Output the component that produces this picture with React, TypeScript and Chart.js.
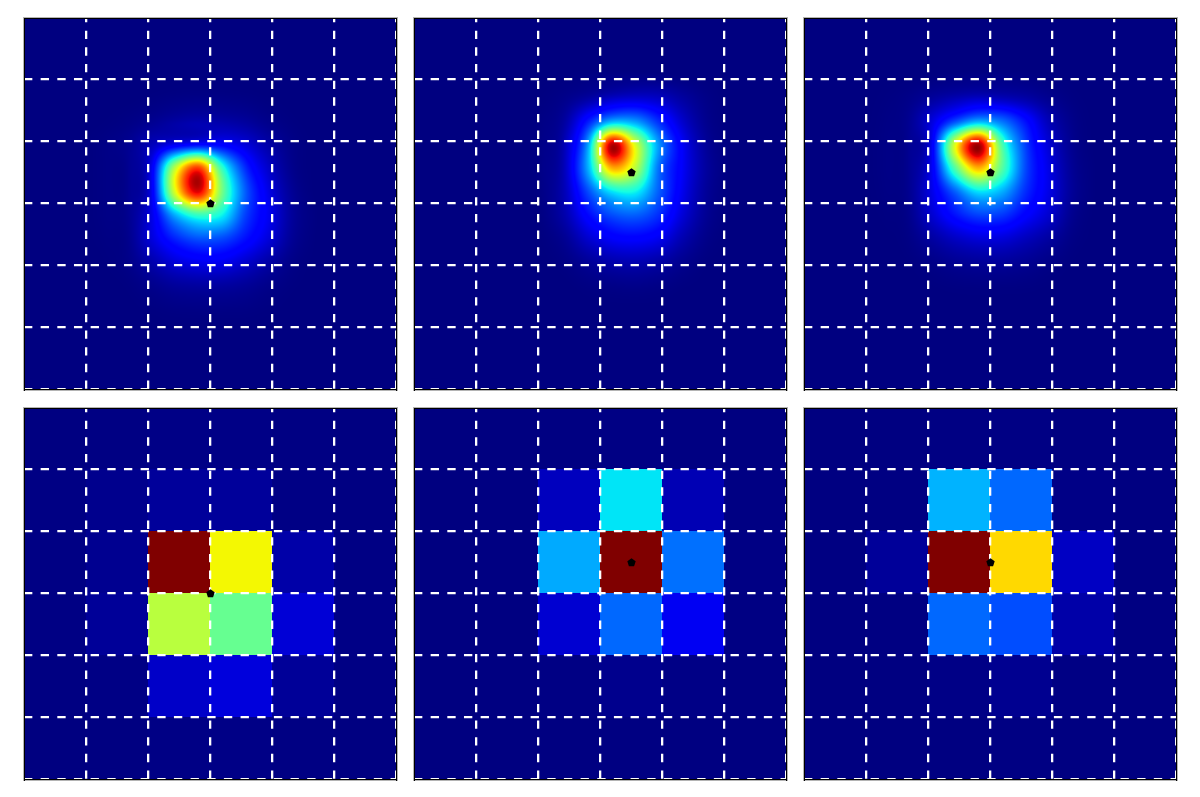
import React, { useEffect, useRef } from "react";
import { Chart, registerables } from "chart.js";

Chart.register(...registerables);

const SMOOTH_A = [
  [0,0,0,0,0,0,0,0,0,0,0,0,0,0,0,0],
  [0,0,0,0,0,0,0,0,0,0,0,0,0,0,0,0],
  [0,0,0,0,0,0,0,0,0,0,0,0,0,0,0,0],
  [0,0,0,0,0,.002,.005,.007,.006,.004,.001,0,0,0,0,0],
  [0,0,0,.001,.005,.015,.03,.04,.035,.025,.01,.002,0,0,0,0],
  [0,0,0,.005,.015,.05,.10,.13,.12,.08,.035,.008,0,0,0,0],
  [0,0,0,.005,.015,.10,.58,.85,.42,.17,.065,.012,0,0,0,0],
  [0,0,0,.005,.015,.10,.62,.92,.50,.22,.09,.02,0,0,0,0],
  [0,0,0,.005,.015,.09,.30,.42,.37,.19,.10,.025,.002,0,0,0],
  [0,0,0,.003,.012,.08,.16,.21,.20,.14,.08,.02,.001,0,0,0],
  [0,0,0,.001,.008,.04,.08,.10,.10,.07,.035,.008,0,0,0,0],
  [0,0,0,0,.002,.012,.025,.03,.03,.022,.01,.002,0,0,0,0],
  [0,0,0,0,0,.002,.005,.006,.006,.005,.002,0,0,0,0,0],
  [0,0,0,0,0,0,0,0,0,0,0,0,0,0,0,0],
  [0,0,0,0,0,0,0,0,0,0,0,0,0,0,0,0],
  [0,0,0,0,0,0,0,0,0,0,0,0,0,0,0,0],
];

const SMOOTH_B = [
  [0,0,0,0,0,0,0,0,0,0,0,0,0,0,0,0],
  [0,0,0,0,0,0,0,0,0,0,0,0,0,0,0,0],
  [0,0,0,0,0,0,.001,.003,.005,.005,.003,.001,0,0,0,0],
  [0,0,0,0,0,.002,.01,.03,.06,.07,.06,.03,.008,0,0,0],
  [0,0,0,0,0,.005,.03,.15,.30,.28,.17,.07,.015,.001,0,0],
  [0,0,0,0,0,.007,.05,.29,.95,.62,.28,.11,.025,.002,0,0],
  [0,0,0,0,0,.008,.055,.30,.72,.58,.24,.11,.03,.002,0,0],
  [0,0,0,0,0,.006,.05,.20,.35,.37,.22,.10,.025,.002,0,0],
  [0,0,0,0,0,.004,.04,.13,.20,.22,.17,.08,.02,.001,0,0],
  [0,0,0,0,0,.001,.018,.07,.11,.12,.10,.045,.01,0,0,0],
  [0,0,0,0,0,0,.005,.022,.04,.045,.035,.015,.002,0,0,0],
  [0,0,0,0,0,0,0,.004,.008,.01,.007,.002,0,0,0,0],
  [0,0,0,0,0,0,0,0,0,0,0,0,0,0,0,0],
  [0,0,0,0,0,0,0,0,0,0,0,0,0,0,0,0],
  [0,0,0,0,0,0,0,0,0,0,0,0,0,0,0,0],
  [0,0,0,0,0,0,0,0,0,0,0,0,0,0,0,0],
];

const SMOOTH_C = [
  [0,0,0,0,0,0,0,0,0,0,0,0,0,0,0,0],
  [0,0,0,0,0,0,0,0,0,0,0,0,0,0,0,0],
  [0,0,0,0,0,.001,.003,.005,.005,.003,.001,0,0,0,0,0],
  [0,0,0,.002,.008,.025,.045,.06,.05,.035,.015,.003,0,0,0,0],
  [0,0,0,.004,.015,.08,.20,.30,.24,.14,.05,.01,0,0,0,0],
  [0,0,0,.005,.015,.10,.62,.97,.45,.19,.075,.015,0,0,0,0],
  [0,0,0,.005,.015,.10,.45,.72,.46,.20,.09,.02,.001,0,0,0],
  [0,0,0,.004,.014,.09,.22,.35,.30,.17,.09,.022,.001,0,0,0],
  [0,0,0,.002,.01,.07,.14,.19,.18,.12,.07,.015,0,0,0,0],
  [0,0,0,0,.005,.03,.06,.08,.08,.055,.03,.006,0,0,0,0],
  [0,0,0,0,.001,.008,.018,.024,.025,.018,.008,.001,0,0,0,0],
  [0,0,0,0,0,.001,.003,.004,.004,.003,.001,0,0,0,0,0],
  [0,0,0,0,0,0,0,0,0,0,0,0,0,0,0,0],
  [0,0,0,0,0,0,0,0,0,0,0,0,0,0,0,0],
  [0,0,0,0,0,0,0,0,0,0,0,0,0,0,0,0],
  [0,0,0,0,0,0,0,0,0,0,0,0,0,0,0,0],
];

const CELLS_A = [
  [.001,.003,.006,.006,.003,.001],
  [.004,.012,.023,.023,.005,.002],
  [.004,.014,1,.647,.035,.004],
  [.004,.021,.575,.474,.075,.006],
  [.002,.005,.0625,.08,.021,.004],
  [0,.001,.005,.006,.003,.001],
];
const CELLS_B = [
  [0,0,.002,.004,.002,0],
  [0,.002,.054,.35,.045,.003],
  [0,.002,.292,1,.235,.004],
  [0,.001,.07,.227,.10,.003],
  [0,.001,.004,.012,.006,.001],
  [0,0,.001,.002,.001,0],
];
const CELLS_C = [
  [0,.001,.003,.004,.001,0],
  [.001,.002,.30,.227,.006,.001],
  [.002,.022,1,.68,.058,.002],
  [.001,.002,.227,.20,.035,.002],
  [0,.001,.006,.014,.004,.001],
  [0,0,.001,.003,.001,0],
];

const MARKERS = [
  { x: 3, y: 3 },
  { x: 3.5, y: 2.5 },
  { x: 3, y: 2.5 },
];

const PANEL_X = [24, 414, 804];
const PANEL_Y = [17, 407];
const TICK_VALUES = [1, 2, 3, 4, 5, 6];

const lerpTable = (t: number[][], v: number) => {
  for (let i = 1; i < t.length; i++) {
    if (v <= t[i][0]) {
      const [a, b] = [t[i - 1], t[i]];
      return a[1] + ((b[1] - a[1]) * (v - a[0])) / (b[0] - a[0]);
    }
  }
  return t[t.length - 1][1];
};
const JET_R = [[0, 0], [0.35, 0], [0.66, 1], [0.89, 1], [1, 0.5]];
const JET_G = [[0, 0], [0.125, 0], [0.375, 1], [0.64, 1], [0.91, 0], [1, 0]];
const JET_B = [[0, 0.5], [0.11, 1], [0.34, 1], [0.65, 0], [1, 0]];
const jet = (v: number): [number, number, number] => [
  Math.round(255 * lerpTable(JET_R, v)),
  Math.round(255 * lerpTable(JET_G, v)),
  Math.round(255 * lerpTable(JET_B, v)),
];

function pentagon(): HTMLCanvasElement {
  const c = document.createElement("canvas");
  c.width = 12;
  c.height = 12;
  const g = c.getContext("2d")!;
  g.fillStyle = "#000";
  g.beginPath();
  for (let i = 0; i < 5; i++) {
    const a = -Math.PI / 2 + (i * 2 * Math.PI) / 5;
    const px = 6.5 + 4.4 * Math.cos(a);
    const py = 6.7 + 4.4 * Math.sin(a);
    if (i === 0) g.moveTo(px, py);
    else g.lineTo(px, py);
  }
  g.closePath();
  g.fill();
  return c;
}

const catmull = (p0: number, p1: number, p2: number, p3: number, t: number) =>
  0.5 * (2 * p1 + (p2 - p0) * t + (2 * p0 - 5 * p1 + 4 * p2 - p3) * t * t + (3 * p1 - p0 - 3 * p2 + p3) * t * t * t);

const smoothHeatPlugin = {
  id: "smoothHeat",
  beforeDatasetsDraw(chart: any, _a: any, opts: any) {
    const grid: number[][] | undefined = opts.grid;
    if (!grid) return;
    const { left, top, width, height } = chart.chartArea;
    const off = document.createElement("canvas");
    off.width = width;
    off.height = height;
    const g = off.getContext("2d")!;
    const img = g.createImageData(width, height);
    const n = grid.length;
    const at = (r: number, c: number) =>
      grid[Math.max(0, Math.min(n - 1, r))][Math.max(0, Math.min(n - 1, c))];
    const xs = chart.scales.x;
    const ys = chart.scales.y;
    for (let py = 0; py < height; py++) {
      const gy = (ys.getValueForPixel(top + py + 0.5) / 6) * n - 0.5;
      const r0 = Math.floor(gy);
      const ty = gy - r0;
      for (let px = 0; px < width; px++) {
        const gx = (xs.getValueForPixel(left + px + 0.5) / 6) * n - 0.5;
        const c0 = Math.floor(gx);
        const tx = gx - c0;
        const rows = [-1, 0, 1, 2].map((d) =>
          catmull(at(r0 + d, c0 - 1), at(r0 + d, c0), at(r0 + d, c0 + 1), at(r0 + d, c0 + 2), tx)
        );
        const v = Math.max(0, Math.min(1, catmull(rows[0], rows[1], rows[2], rows[3], ty)));
        const [r, gg, b] = jet(v);
        const i = (py * width + px) * 4;
        img.data[i] = r;
        img.data[i + 1] = gg;
        img.data[i + 2] = b;
        img.data[i + 3] = 255;
      }
    }
    g.putImageData(img, 0, 0);
    chart.ctx.drawImage(off, left, top);
  },
};

const frameAndMarkerPlugin = {
  id: "frameAndMarker",
  beforeDatasetDraw(chart: any, args: any) {
    if (chart.data.datasets[args.index].label === "marker") return false;
    return undefined;
  },
  afterDraw(chart: any) {
    const { left, top, right, bottom } = chart.chartArea;
    const ctx = chart.ctx;
    const w = right - left;
    const h = bottom - top;
    ctx.save();
    ctx.fillStyle = "#b4b4b4";
    ctx.fillRect(left - 1, top, 1, h + 2);
    ctx.fillRect(right + 1, top, 1, h + 2);
    ctx.fillRect(left - 1, top, w + 3, 1);
    ctx.fillRect(left - 1, bottom + 1, w + 3, 1);
    ctx.fillStyle = "#000";
    ctx.fillRect(left, top + 1, 1, h + 1);
    ctx.fillRect(right, top + 1, 1, h + 1);
    ctx.fillRect(left, top + 1, w + 1, 1);
    ctx.fillRect(left, bottom, w + 1, 1);
    ctx.restore();
    chart.data.datasets.forEach((d: any, i: number) => {
      if (d.label === "marker") chart.getDatasetMeta(i).controller.draw();
    });
  },
};

const PAD = 6;
const SIZE = 372;

function Panel({ left, top, smooth, cells, marker }: any) {
  const ref = useRef<HTMLCanvasElement>(null);
  useEffect(() => {
    const datasets: any[] = [];
    if (cells) {
      const pts: any[] = [];
      cells.forEach((row: number[], r: number) =>
        row.forEach((v: number, c: number) => pts.push({ x: c + 0.5, y: r + 0.5, v }))
      );
      datasets.push({
        label: "cells",
        data: pts,
        pointStyle: "rect",
        pointBorderWidth: 0,
        pointRadius: (ctx: any) => {
          const xs = ctx.chart.scales.x;
          return (xs.getPixelForValue(1) - xs.getPixelForValue(0)) / Math.SQRT2;
        },
        pointBackgroundColor: (ctx: any) => {
          const [r, g, b] = jet(ctx.raw?.v ?? 0);
          return `rgb(${r},${g},${b})`;
        },
        clip: false,
      });
    }
    datasets.push({
      label: "marker",
      data: [marker],
      pointStyle: pentagon(),
      pointRadius: 5,
      clip: false,
    });
    const keepTicks = (axis: any) => {
      axis.ticks = TICK_VALUES.map((value) => ({ value }));
    };
    const chart = new Chart(ref.current!, {
      type: "scatter",
      data: { datasets },
      plugins: [smoothHeatPlugin, frameAndMarkerPlugin],
      options: {
        animation: false,
        responsive: false,
        layout: { padding: PAD },
        plugins: {
          legend: { display: false },
          tooltip: { enabled: false },
          title: { display: false },
          smoothHeat: { grid: smooth },
        } as any,
        scales: {
          x: {
            type: "linear",
            min: 0,
            max: 6,
            afterBuildTicks: keepTicks,
            ticks: { display: false },
            border: { display: false, dash: [8.33, 8.33], dashOffset: 3 },
            grid: { color: "#fff", lineWidth: 2.3, drawTicks: false, z: 1 },
          },
          y: {
            type: "linear",
            reverse: true,
            min: 0,
            max: 6,
            afterBuildTicks: keepTicks,
            ticks: { display: false },
            border: { display: false, dash: [8.33, 8.33], dashOffset: 0 },
            grid: { color: "#fff", lineWidth: 2.3, drawTicks: false, z: 1 },
          },
        },
      } as any,
    });
    return () => chart.destroy();
  }, []);
  return (
    <canvas
      ref={ref}
      width={SIZE + PAD * 2}
      height={SIZE + PAD * 2}
      style={{ position: "absolute", left: left - PAD, top: top - PAD, width: SIZE + PAD * 2, height: SIZE + PAD * 2 }}
    />
  );
}

export default function App() {
  return (
    <div style={{ position: "absolute", left: 0, top: 0, width: 1200, height: 797, background: "#fff", overflow: "hidden" }}>
      <Panel left={PANEL_X[0]} top={PANEL_Y[0]} smooth={SMOOTH_A} marker={MARKERS[0]} />
      <Panel left={PANEL_X[1]} top={PANEL_Y[0]} smooth={SMOOTH_B} marker={MARKERS[1]} />
      <Panel left={PANEL_X[2]} top={PANEL_Y[0]} smooth={SMOOTH_C} marker={MARKERS[2]} />
      <Panel left={PANEL_X[0]} top={PANEL_Y[1]} cells={CELLS_A} marker={MARKERS[0]} />
      <Panel left={PANEL_X[1]} top={PANEL_Y[1]} cells={CELLS_B} marker={MARKERS[1]} />
      <Panel left={PANEL_X[2]} top={PANEL_Y[1]} cells={CELLS_C} marker={MARKERS[2]} />
    </div>
  );
}
